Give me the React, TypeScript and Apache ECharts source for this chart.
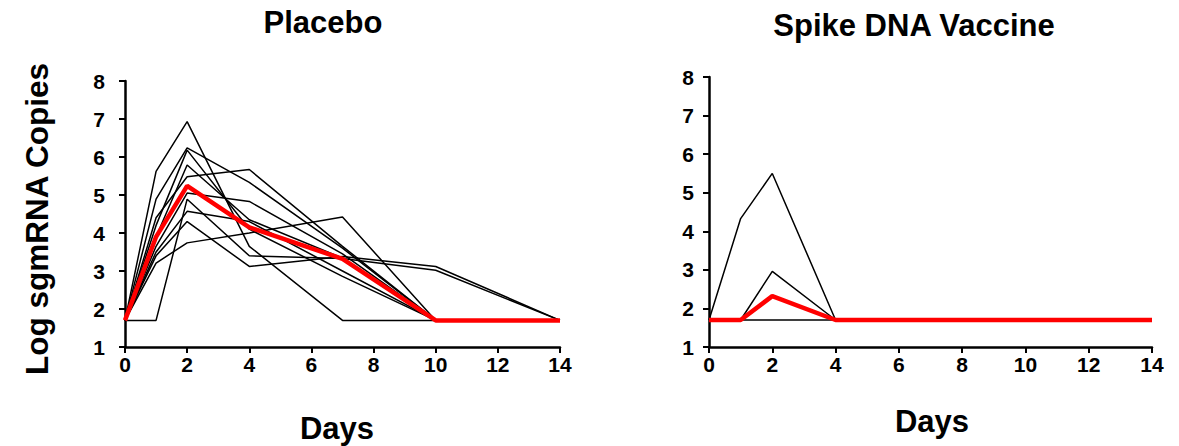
import React, { useEffect, useRef } from "react";
import * as echarts from "echarts";

const days = [0, 1, 2, 4, 7, 10, 14];
const xTicks = [0, 2, 4, 6, 8, 10, 12, 14];

const placeboA = [1.7, 5.62, 6.93, 3.65, 1.7, 1.7, 1.7];
const placeboB = [1.7, 4.89, 6.24, 5.33, 3.6, 1.7, 1.7];
const placeboC = [1.7, 4.2, 6.18, 4.1, 2.86, 1.7, 1.7];
const placeboD = [1.7, 3.9, 5.79, 4.35, 3.34, 1.7, 1.7];
const placeboE = [1.7, 4.4, 5.48, 5.67, 3.65, 1.7, 1.7];
const placeboF = [1.7, 3.65, 5.05, 4.83, 3.45, 1.7, 1.7];
const placeboG = [1.7, 1.7, 4.89, 3.4, 3.33, 3.02, 1.7];
const placeboH = [1.7, 3.5, 4.57, 4.3, 3.0, 1.7, 1.7];
const placeboI = [1.7, 3.4, 4.3, 3.12, 3.38, 3.12, 1.7];
const placeboJ = [1.7, 3.21, 3.74, 4.0, 4.42, 1.7, 1.7];
const placeboMean = [1.7, 3.9, 5.24, 4.15, 3.32, 1.7, 1.7];

const vaccineA = [1.7, 4.33, 5.5, 1.7, 1.7, 1.7, 1.7];
const vaccineB = [1.7, 1.7, 2.96, 1.7, 1.7, 1.7, 1.7];
const vaccineC = [1.7, 1.7, 1.7, 1.7, 1.7, 1.7, 1.7];
const vaccineMean = [1.7, 1.7, 2.32, 1.7, 1.7, 1.7, 1.7];

const placeboLines = [placeboA, placeboB, placeboC, placeboD, placeboE, placeboF, placeboG, placeboH, placeboI, placeboJ];
const vaccineLines = [vaccineA, vaccineB, vaccineC];

const FONT = "'Liberation Sans', Arial, sans-serif";

function pairs(vals: number[]) {
  return vals.map((v, i) => [days[i], v]);
}

export default function App() {
  const ref = useRef<HTMLDivElement>(null);
  useEffect(() => {
    if (!ref.current) return;
    const chart = echarts.init(ref.current, null, { renderer: "svg" });
    const axisCommon = {
      axisLine: { show: true, lineStyle: { color: "#000", width: 2.5 } },
      axisTick: { show: true, inside: false, length: 6, lineStyle: { color: "#000", width: 2 } },
      splitLine: { show: false },
    };
    const xAxisBase = (gridIndex: number) => ({
      type: "value",
      gridIndex,
      min: 0,
      max: 14,
      interval: 2,
      ...axisCommon,
      axisLabel: {
        color: "#000",
        fontFamily: FONT,
        fontWeight: "bold",
        fontSize: 21,
        margin: 7,
        formatter: (v: number) => (xTicks.includes(v) ? String(v) : ""),
      },
    });
    const yAxisBase = (gridIndex: number, margin: number) => ({
      type: "value",
      gridIndex,
      min: 1,
      max: 8,
      interval: 1,
      ...axisCommon,
      axisLabel: {
        color: "#000",
        fontFamily: FONT,
        fontWeight: "bold",
        fontSize: 21,
        margin,
      },
    });
    const series: any[] = [];
    placeboLines.forEach((vals, i) => {
      series.push({
        name: "placebo" + i,
        type: "line",
        xAxisIndex: 0,
        yAxisIndex: 0,
        data: pairs(vals),
        symbol: "none",
        lineStyle: { color: "#000", width: 1.5 },
        z: 2,
      });
    });
    series.push({
      name: "placeboMean",
      type: "line",
      xAxisIndex: 0,
      yAxisIndex: 0,
      data: pairs(placeboMean),
      symbol: "none",
      lineStyle: { color: "#ff0000", width: 4.5 },
      z: 3,
    });
    vaccineLines.forEach((vals, i) => {
      series.push({
        name: "vaccine" + i,
        type: "line",
        xAxisIndex: 1,
        yAxisIndex: 1,
        data: pairs(vals),
        symbol: "none",
        lineStyle: { color: "#000", width: 1.5 },
        z: 2,
      });
    });
    series.push({
      name: "vaccineMean",
      type: "line",
      xAxisIndex: 1,
      yAxisIndex: 1,
      data: pairs(vaccineMean),
      symbol: "none",
      lineStyle: { color: "#ff0000", width: 4.5 },
      z: 3,
    });

    const textStyle = (text: string, size = 30) => ({
      text,
      font: `bold ${size}px ${FONT}`,
      fill: "#000",
      textAlign: "center",
      textVerticalAlign: "middle",
    });

    chart.setOption({
      animation: false,
      backgroundColor: "#fff",
      grid: [
        { left: 125, top: 81, width: 435, height: 266 },
        { left: 709, top: 77, width: 443, height: 270 },
      ],
      xAxis: [xAxisBase(0), xAxisBase(1)],
      yAxis: [yAxisBase(0, 20), yAxisBase(1, 15)],
      series,
      graphic: [
        { type: "text", x: 323, y: 22, style: textStyle("Placebo", 31) },
        { type: "text", x: 914, y: 25, style: textStyle("Spike DNA Vaccine", 31) },
        { type: "text", x: 337, y: 428, style: textStyle("Days", 31) },
        { type: "text", x: 932, y: 421, style: textStyle("Days", 31) },
        { type: "text", x: 37, y: 219, rotation: Math.PI / 2, style: textStyle("Log sgmRNA Copies", 31.5) },
      ],
    });
    return () => chart.dispose();
  }, []);
  return (
    <div
      ref={ref}
      style={{ position: "fixed", left: 0, top: 0, width: 1179, height: 446, background: "#fff" }}
    />
  );
}
